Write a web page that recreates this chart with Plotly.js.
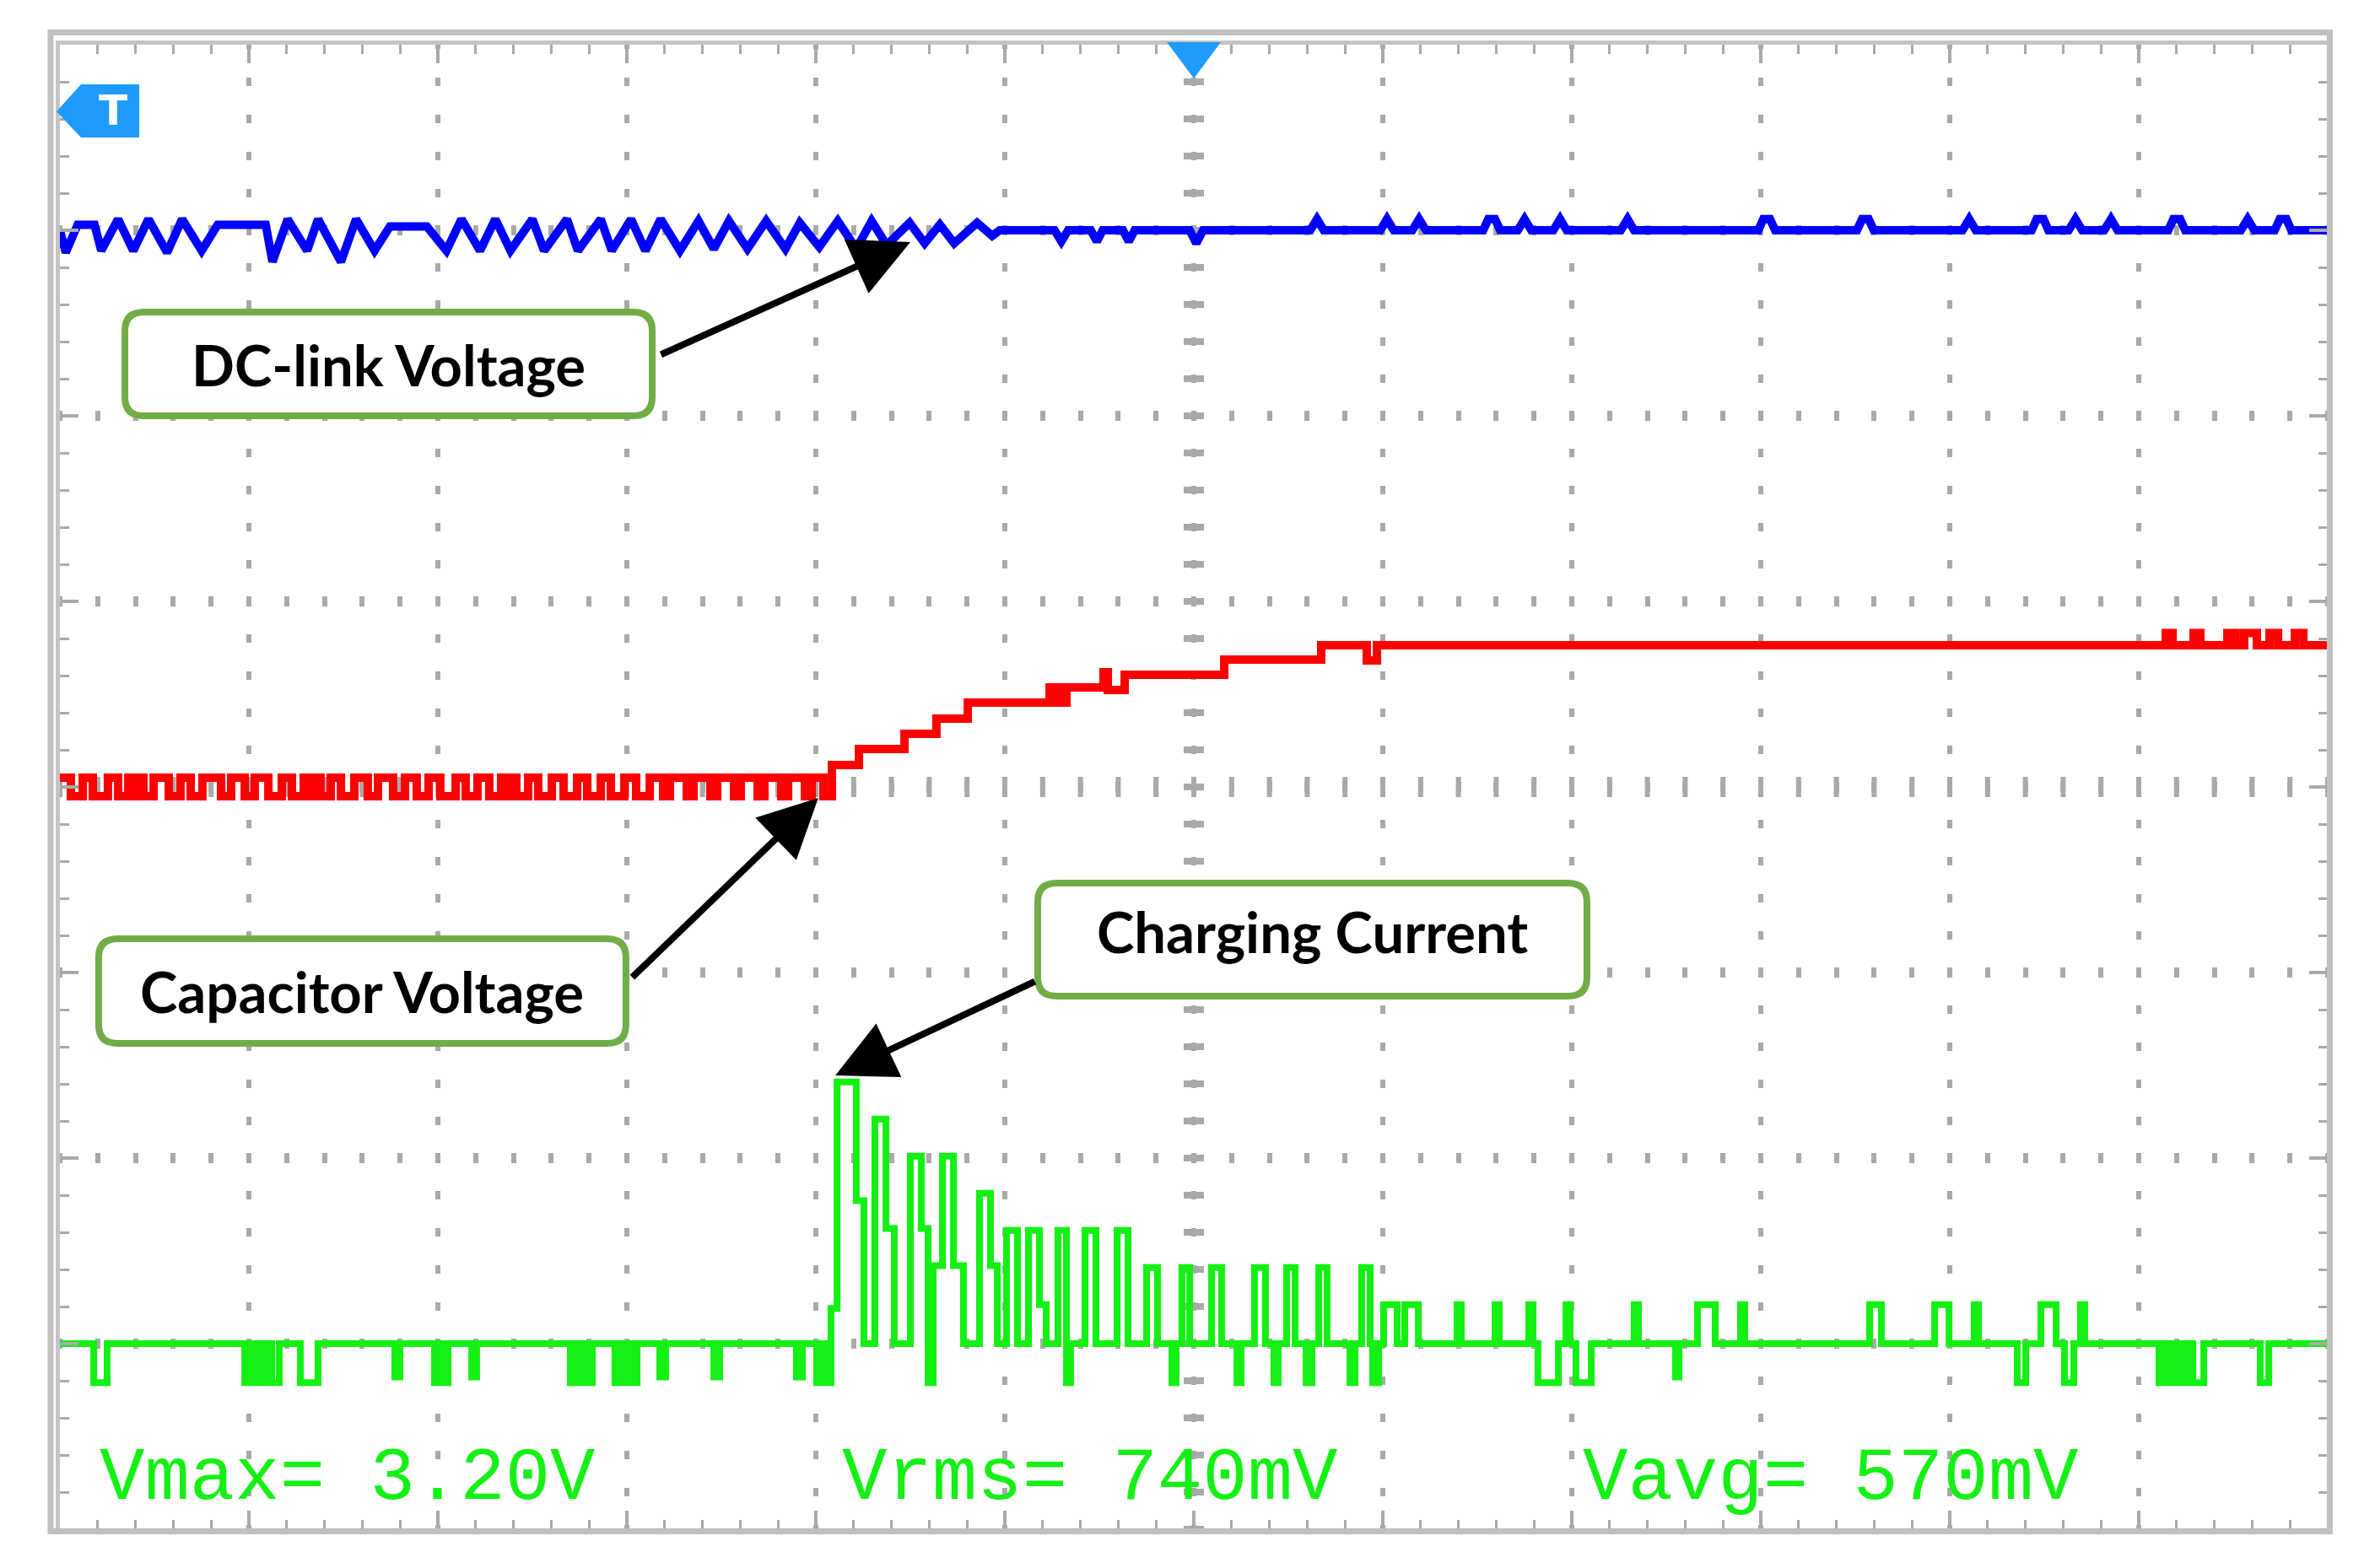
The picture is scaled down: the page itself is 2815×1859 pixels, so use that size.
<!DOCTYPE html>
<html><head><meta charset="utf-8">
<script src="https://cdn.plot.ly/plotly-3.0.1.min.js"></script>
<style>html,body{margin:0;padding:0;background:#fff;}#chart{width:2815px;height:1859px;}</style>
</head><body><div id="chart"></div>
<script>
// Time axis and amplitude in screen divisions (12 x 8 grid, centre = 0,0)
const blueT = [-6.000,-5.969,-5.906,-5.817,-5.781,-5.692,-5.612,-5.531,-5.433,-5.353,-5.250,-5.165,-4.991,-4.911,-4.875,-4.795,-4.692,-4.634,-4.513,-4.433,-4.335,-4.254,-4.058,-3.955,-3.875,-3.777,-3.696,-3.616,-3.500,-3.438,-3.317,-3.259,-3.138,-3.080,-2.978,-2.902,-2.821,-2.719,-2.621,-2.540,-2.460,-2.362,-2.263,-2.161,-2.085,-1.982,-1.884,-1.786,-1.705,-1.625,-1.504,-1.424,-1.344,-1.268,-1.147,-1.067,-1.027,-0.737,-0.701,-0.665,-0.545,-0.513,-0.482,-0.375,-0.344,-0.313,-0.022,0.013,0.049,0.616,0.652,0.688,0.987,1.022,1.058,1.156,1.192,1.228,1.531,1.558,1.594,1.621,1.714,1.750,1.786,1.902,1.938,1.973,2.259,2.295,2.330,2.987,3.013,3.049,3.076,3.509,3.536,3.571,3.598,4.067,4.103,4.138,4.433,4.460,4.496,4.522,4.629,4.665,4.701,4.817,4.853,4.888,5.156,5.183,5.219,5.246,5.540,5.576,5.612,5.719,5.746,5.781,5.808,6.000];
const blueV = [3.00,2.88,3.03,3.03,2.89,3.06,2.89,3.06,2.88,3.06,2.89,3.03,3.03,3.03,2.83,3.06,2.89,3.06,2.83,3.06,2.89,3.02,3.02,2.89,3.06,2.89,3.06,2.89,3.06,2.89,3.06,2.89,3.06,2.89,3.06,2.89,3.06,2.89,3.05,2.90,3.05,2.90,3.05,2.90,3.04,2.91,3.05,2.90,3.05,2.92,3.04,2.93,3.03,2.93,3.04,2.97,3.00,3.00,2.94,3.00,3.00,2.94,3.00,3.00,2.94,3.00,3.00,2.93,3.00,3.00,3.06,3.00,3.00,3.06,3.00,3.00,3.06,3.00,3.00,3.06,3.06,3.00,3.00,3.06,3.00,3.00,3.06,3.00,3.00,3.06,3.00,3.00,3.06,3.06,3.00,3.00,3.06,3.06,3.00,3.00,3.06,3.00,3.00,3.06,3.06,3.00,3.00,3.06,3.00,3.00,3.06,3.00,3.00,3.06,3.06,3.00,3.00,3.06,3.00,3.00,3.06,3.06,3.00,3.00];

const redT = [-6.000,-5.942,-5.879,-5.826,-5.746,-5.692,-5.638,-5.612,-5.589,-5.558,-5.504,-5.424,-5.362,-5.308,-5.246,-5.147,-5.094,-5.022,-4.969,-4.897,-4.826,-4.772,-4.710,-4.683,-4.661,-4.621,-4.567,-4.513,-4.442,-4.371,-4.317,-4.237,-4.174,-4.112,-4.049,-3.987,-3.906,-3.853,-3.790,-3.728,-3.665,-3.638,-3.616,-3.585,-3.522,-3.469,-3.397,-3.335,-3.263,-3.210,-3.138,-3.085,-3.013,-2.951,-2.879,-2.808,-2.772,-2.683,-2.647,-2.558,-2.522,-2.433,-2.397,-2.308,-2.272,-2.183,-2.147,-2.058,-2.022,-1.960,-1.915,-1.772,-1.531,-1.362,-1.196,-0.763,-0.741,-0.719,-0.696,-0.674,-0.478,-0.455,-0.366,0.161,0.674,0.915,0.969,5.143,5.179,5.290,5.326,5.469,5.513,5.558,5.625,5.692,5.737,5.826,5.871,6.000];
const redV = [0.05,-0.05,0.05,-0.05,0.05,-0.05,0.05,-0.05,0.05,-0.05,0.05,-0.05,0.05,-0.05,0.05,-0.05,0.05,-0.05,0.05,-0.05,0.05,-0.05,0.05,-0.05,0.05,-0.05,0.05,-0.05,0.05,-0.05,0.05,-0.05,0.05,-0.05,0.05,-0.05,0.05,-0.05,0.05,-0.05,0.05,-0.05,0.05,-0.05,0.05,-0.05,0.05,-0.05,0.05,-0.05,0.05,-0.05,0.05,-0.05,0.05,-0.05,0.05,-0.05,0.05,-0.05,0.05,-0.05,0.05,-0.05,0.05,-0.05,0.05,-0.05,0.05,-0.05,0.118,0.205,0.286,0.368,0.455,0.536,0.455,0.536,0.455,0.536,0.618,0.523,0.605,0.686,0.764,0.682,0.764,0.83,0.764,0.83,0.764,0.83,0.764,0.83,0.764,0.83,0.764,0.83,0.764,0.764];

const greenT = [-6.000,-5.821,-5.750,-5.022,-4.996,-4.973,-4.946,-4.924,-4.897,-4.879,-4.839,-4.728,-4.634,-4.228,-4.201,-4.018,-3.991,-3.973,-3.946,-3.821,-3.795,-3.299,-3.272,-3.254,-3.228,-3.210,-3.183,-3.063,-3.036,-3.018,-2.991,-2.973,-2.946,-2.826,-2.795,-2.540,-2.509,-2.103,-2.071,-1.996,-1.964,-1.946,-1.920,-1.888,-1.786,-1.746,-1.688,-1.629,-1.585,-1.500,-1.442,-1.406,-1.379,-1.330,-1.272,-1.219,-1.134,-1.076,-1.040,-0.991,-0.933,-0.875,-0.817,-0.781,-0.719,-0.674,-0.652,-0.576,-0.518,-0.406,-0.348,-0.250,-0.192,-0.116,-0.094,-0.063,-0.022,0.094,0.147,0.228,0.250,0.321,0.379,0.424,0.446,0.491,0.536,0.594,0.625,0.661,0.705,0.826,0.853,0.888,0.933,0.946,0.978,1.004,1.076,1.116,1.188,1.393,1.415,1.594,1.616,1.772,1.795,1.821,1.929,1.969,1.991,2.022,2.103,2.330,2.353,2.549,2.567,2.665,2.759,2.893,2.915,3.576,3.638,3.920,3.996,4.129,4.152,4.357,4.402,4.482,4.563,4.607,4.656,4.692,4.714,5.107,5.134,5.152,5.179,5.196,5.223,5.241,5.268,5.286,5.344,5.643,5.688,6.000];
const greenV = [-3.00,-3.21,-3.00,-3.21,-3.00,-3.21,-3.00,-3.21,-3.00,-3.21,-3.00,-3.21,-3.00,-3.18,-3.00,-3.21,-3.00,-3.21,-3.00,-3.18,-3.00,-3.21,-3.00,-3.21,-3.00,-3.21,-3.00,-3.21,-3.00,-3.21,-3.00,-3.21,-3.00,-3.18,-3.00,-3.18,-3.00,-3.18,-3.00,-3.21,-3.00,-3.21,-2.81,-1.59,-2.23,-3.00,-1.79,-2.38,-3.00,-1.99,-2.38,-3.21,-2.58,-1.99,-2.58,-3.00,-2.19,-2.58,-3.00,-2.39,-3.00,-2.39,-2.79,-3.00,-2.39,-3.21,-3.00,-2.39,-3.00,-2.39,-3.00,-2.59,-3.00,-3.21,-3.00,-2.59,-3.00,-2.59,-3.00,-3.21,-3.00,-2.59,-3.00,-3.21,-3.00,-2.59,-3.00,-3.21,-3.00,-2.59,-3.00,-3.21,-3.00,-2.59,-3.00,-3.21,-3.00,-2.79,-3.00,-2.79,-3.00,-2.79,-3.00,-2.79,-3.00,-2.79,-3.00,-3.21,-3.00,-2.79,-3.00,-3.21,-3.00,-2.79,-3.00,-3.18,-3.00,-2.79,-3.00,-2.79,-3.00,-2.79,-3.00,-2.79,-3.00,-2.79,-3.00,-3.21,-3.00,-2.79,-3.00,-3.21,-3.00,-2.79,-3.00,-3.21,-3.00,-3.21,-3.00,-3.21,-3.00,-3.21,-3.00,-3.21,-3.00,-3.21,-3.00,-3.00];

// Callout labels: text, box [left, right, top, bottom], arrow [tipT, tipV, tailT, tailV]
const calloutText = ['DC-link Voltage', 'Capacitor Voltage', 'Charging Current'];
const calloutBox = [[-5.674,-2.848,2.577,1.982],[-5.813,-2.987,-0.800,-1.400],[-0.844,2.098,-0.500,-1.145]];
const calloutArrow = [[-1.500,2.936,-2.826,2.327],[-1.987,-0.059,-2.978,-1.032],[-1.897,-1.555,-0.835,-1.045]];

// Scope measurement readouts
const readoutText = ['Vmax= 3.20V', 'Vrms= 740mV', 'Vavg= 570mV'];
const readoutT = [-5.80, -1.87, 2.05];
const readoutV = -3.73;

const traces = [
  {x: blueT, y: blueV, mode: 'lines', line: {color: '#0000ff', width: 10}, hoverinfo: 'skip'},
  {x: redT, y: redV, mode: 'lines', line: {color: '#ff0000', width: 10, shape: 'hv'}, hoverinfo: 'skip'},
  {x: greenT, y: greenV, mode: 'lines', line: {color: '#14f014', width: 8, shape: 'hv'}, hoverinfo: 'skip'}
];

function roundRect(x0, x1, yt, yb, rx, ry) {
  return `M${x0+rx},${yt} L${x1-rx},${yt} Q${x1},${yt} ${x1},${yt-ry} L${x1},${yb+ry} Q${x1},${yb} ${x1-rx},${yb} L${x0+rx},${yb} Q${x0},${yb} ${x0},${yb+ry} L${x0},${yt-ry} Q${x0},${yt} ${x0+rx},${yt} Z`;
}

const gridGray = '#a9a9a9';
const shapes = [
  {type: 'line', xref: 'x', yref: 'y', x0: 0, x1: 0, y0: -4, y1: 4, layer: 'below',
   line: {color: gridGray, width: 24, dash: '4px,36px,4px,0px'}},
  {type: 'line', xref: 'x', yref: 'y', x0: -6, x1: 6, y0: 0, y1: 0, layer: 'below',
   line: {color: gridGray, width: 24, dash: '3px,38.8px,3px,0px'}},
  {type: 'rect', xref: 'paper', yref: 'paper', x0: -0.0041, x1: 1.0009, y0: -0.0014, y1: 1.0082,
   line: {color: '#c0c0c0', width: 7}, layer: 'above'},
  {type: 'path', xref: 'paper', yref: 'paper', path: 'M0.4881,1.0017 L0.5119,1.0017 L0.5,0.9773 Z',
   fillcolor: '#1e9bff', line: {width: 0}},
  {type: 'path', xref: 'paper', yref: 'paper', path: 'M-0.0015,0.955 L0.0093,0.9733 L0.035,0.9733 L0.035,0.9375 L0.0093,0.9375 Z',
   fillcolor: '#1e9bff', line: {width: 0}}
];
calloutBox.forEach(b => {
  shapes.push({type: 'path', xref: 'x', yref: 'y', path: roundRect(b[0]+0.018, b[1]-0.018, b[2]-0.018, b[3]+0.018, 0.1, 0.1),
    fillcolor: '#ffffff', line: {color: '#70ad47', width: 8}, layer: 'above'});
});

const labelShift = [0, 0, 10];
const annotations = [];
calloutText.forEach((t, i) => {
  const b = calloutBox[i];
  annotations.push({x: (b[0]+b[1])/2, y: (b[2]+b[3])/2, xref: 'x', yref: 'y', text: t, showarrow: false,
    xanchor: 'center', yanchor: 'middle', yshift: labelShift[i],
    font: {family: 'Lato, "Open Sans", sans-serif', size: 67, color: '#000000', weight: 700}});
  const a = calloutArrow[i];
  annotations.push({x: a[0], y: a[1], ax: a[2], ay: a[3], xref: 'x', yref: 'y', axref: 'x', ayref: 'y',
    text: '', showarrow: true, arrowhead: 2, arrowsize: 1.75, arrowwidth: 8, arrowcolor: '#000000', standoff: 0});
});
readoutText.forEach((t, i) => {
  annotations.push({x: readoutT[i], y: readoutV, xref: 'x', yref: 'y', text: t, showarrow: false,
    xanchor: 'left', yanchor: 'middle',
    font: {family: '"Liberation Mono", "DejaVu Sans Mono", monospace', size: 89, color: '#14f014'}});
});
annotations.push({x: 0.0235, y: 0.9554, xref: 'paper', yref: 'paper', text: 'T', showarrow: false,
  xanchor: 'center', yanchor: 'middle',
  font: {family: '"DejaVu Sans", sans-serif', size: 50, color: '#ffffff', weight: 700}});

const tickGray = '#a9a9a9';
const layout = {
  width: 2815, height: 1859,
  margin: {l: 71, r: 56, t: 53, b: 46, pad: 0},
  paper_bgcolor: '#ffffff', plot_bgcolor: '#ffffff',
  showlegend: false,
  xaxis: {range: [-6, 6], tick0: 0, dtick: 1, showticklabels: false, zeroline: false,
    showgrid: true, gridcolor: gridGray, gridwidth: 6, griddash: '5px,34px,5px,0px',
    ticks: 'inside', ticklen: 22, tickwidth: 4, tickcolor: tickGray,
    showline: true, linecolor: '#c4c4c4', linewidth: 5, mirror: 'ticks',
    minor: {tick0: 0, dtick: 0.2, ticks: 'inside', ticklen: 11, tickwidth: 3, tickcolor: tickGray, showgrid: false},
    fixedrange: true},
  yaxis: {range: [-4, 4], tick0: 0, dtick: 1, showticklabels: false, zeroline: false,
    showgrid: true, gridcolor: gridGray, gridwidth: 12, griddash: '3px,38.8px,3px,0px',
    ticks: 'inside', ticklen: 22, tickwidth: 4, tickcolor: tickGray,
    showline: true, linecolor: '#c4c4c4', linewidth: 5, mirror: 'ticks',
    minor: {tick0: 0, dtick: 0.2, ticks: 'inside', ticklen: 11, tickwidth: 3, tickcolor: tickGray, showgrid: false},
    fixedrange: true},
  shapes: shapes,
  annotations: annotations
};

Plotly.newPlot('chart', traces, layout, {staticPlot: true, displayModeBar: false});
</script></body></html>
